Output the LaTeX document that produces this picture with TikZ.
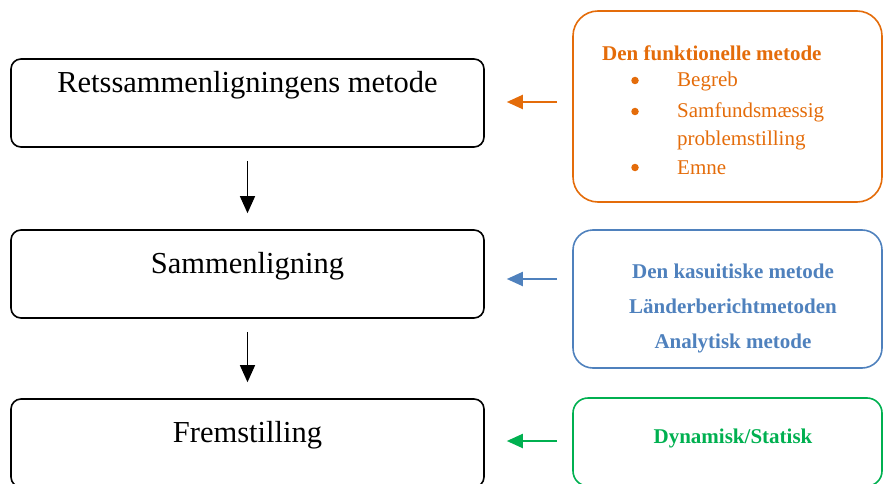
\documentclass[tikz,border=0pt]{standalone}
\usepackage{fontspec}
\setmainfont{Liberation Serif}
\usetikzlibrary{arrows.meta}
\definecolor{methodorange}{RGB}{228,108,10}
\definecolor{methodblue}{RGB}{79,129,189}
\definecolor{methodgreen}{RGB}{0,176,80}
\begin{document}
\begin{tikzpicture}[x=1pt,y=-1pt,
  stagebox/.style={draw=black, line width=1.6pt, rounded corners=10pt,
    minimum width=473pt, minimum height=88pt, inner sep=0pt},
  stagetext/.style={font=\fontsize{30.5}{36}\selectfont, anchor=base, inner sep=0pt},
  sidebox/.style={line width=1.6pt, minimum width=309pt, inner sep=0pt},
  sidetext/.style={font=\fontsize{21}{25}\selectfont, inner sep=0pt},
  bulletdot/.style={circle, fill=methodorange, minimum size=7.5pt, inner sep=0pt},
  flow/.style={line width=1.3pt, -{Triangle[length=17pt,width=15pt]},
    shorten <=13pt, shorten >=16pt},
  feed/.style={line width=2pt, -{Triangle[length=16pt,width=14pt]},
    shorten <=15pt, shorten >=22pt},
]
\useasboundingbox (0,0) rectangle (883,484);
\clip (0,0) rectangle (883,484);

% main stages
\node[stagebox] (b1) at (247.5,103) {};
\node[stagebox] (b2) at (247.5,274) {};
\node[stagebox] (b3) at (247.5,443) {};
\node[stagetext] (t1) at (247.5,93) {Retssammenligningens metode};
\node[stagetext] (t2) at (247.5,273) {Sammenligning};
\node[stagetext] (t3) at (247.5,442) {Fremstilling};

\draw[flow] (b1.south) -- (b2.north);
\draw[flow] (b2.south) -- (b3.north);

% functional method
\node[sidebox, draw=methodorange, rounded corners=25pt, minimum height=191pt]
  (orng) at (727.5,106.5) {};
\node[bulletdot] (ob1) at (635,80.5) {};
\node[bulletdot] (ob2) at (635,111.5) {};
\node[bulletdot] (ob3) at (635,167.5) {};
\begin{scope}[methodorange, every node/.style={sidetext}]
  \node[anchor=base west, font=\fontsize{21}{25}\selectfont\bfseries] (oh) at (602,61) {Den funktionelle metode};
  \node[anchor=base west] (oi1) at (677,87) {Begreb};
  \node[anchor=base west] (oi2) at (677,118) {Samfundsmæssig};
  \node[anchor=base west] (oi2b) at (677,146) {problemstilling};
  \node[anchor=base west] (oi3) at (677,174) {Emne};
\end{scope}

% comparison methods
\node[sidebox, draw=methodblue, rounded corners=20pt, minimum height=138pt]
  (blu) at (727.5,299) {};
\begin{scope}[methodblue, every node/.style={sidetext, anchor=base, font=\fontsize{21}{25}\selectfont\bfseries}]
  \node (bl1) at (733,278) {Den kasuitiske metode};
  \node (bl2) at (733,313) {Länderberichtmetoden};
  \node (bl3) at (733,348) {Analytisk metode};
\end{scope}

% presentation
\node[sidebox, draw=methodgreen, rounded corners=15pt, minimum height=88pt]
  (grn) at (727.5,442) {};
\node[sidetext, anchor=base, methodgreen, font=\fontsize{21}{25}\selectfont\bfseries]
  (gt) at (733,443) {Dynamisk/Statisk};

% feeding arrows
\draw[feed, methodorange] ([yshift=1pt]b1.east -| orng.west) -- ([yshift=1pt]b1.east);
\draw[feed, methodblue] ([yshift=-5pt]b2.east -| blu.west) -- ([yshift=-5pt]b2.east);
\draw[feed, methodgreen] ([yshift=2pt]b3.east -| grn.west) -- ([yshift=2pt]b3.east);
\end{tikzpicture}
\end{document}
